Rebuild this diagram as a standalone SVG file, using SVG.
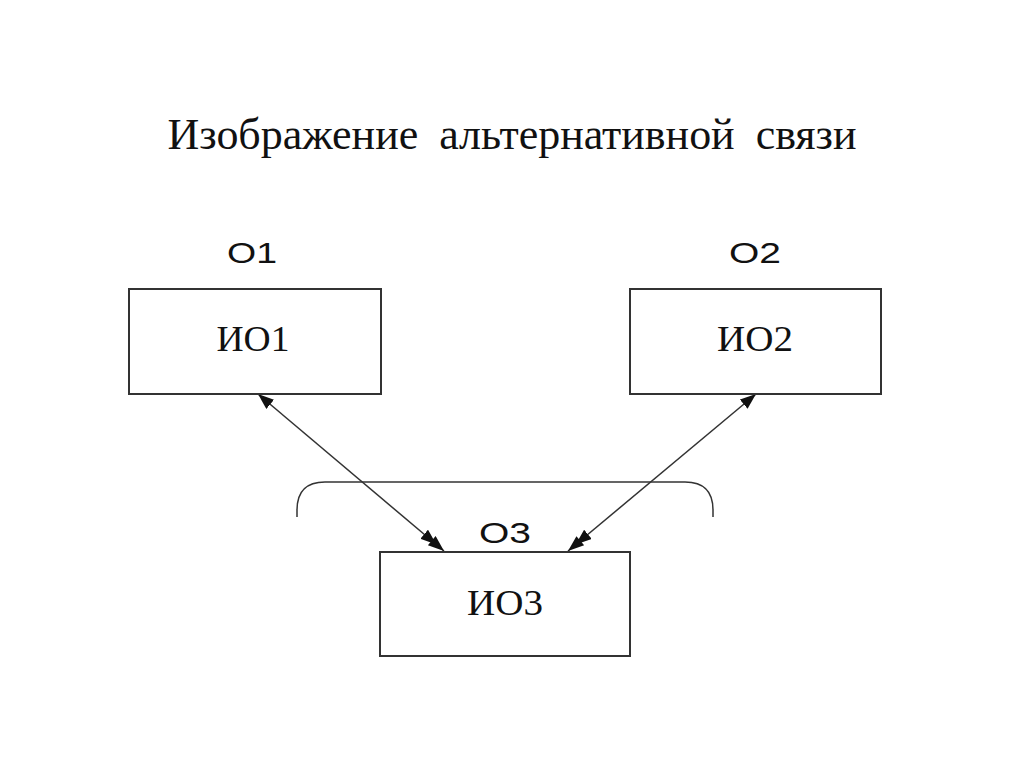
<svg xmlns="http://www.w3.org/2000/svg" width="1024" height="768" viewBox="0 0 1024 768">
<style>
.box{fill:#fff;stroke:#333;stroke-width:2}
.in{font-family:"Liberation Serif",serif;font-size:36px;fill:#111;text-anchor:middle}
.lbl{font-family:"Liberation Sans",sans-serif;font-size:29px;fill:#111;text-anchor:middle}
.ttl{font-family:"Liberation Serif",serif;font-size:44px;fill:#111;text-anchor:middle;word-spacing:10px}
.con{fill:none;stroke:#333;stroke-width:1.5}
</style>
<defs>
<marker id="one" viewBox="0 0 16 12" refX="16" refY="6" markerWidth="16" markerHeight="12" markerUnits="userSpaceOnUse" orient="auto-start-reverse">
<path d="M0,0 L16,6 L0,12 Z" fill="#111"/>
</marker>
<marker id="two" viewBox="0 0 26 12" refX="26" refY="6" markerWidth="26" markerHeight="12" markerUnits="userSpaceOnUse" orient="auto">
<path d="M0,0 L16,6 L0,12 Z M10,0 L26,6 L10,12 Z" fill="#111"/>
</marker>
</defs>
<rect width="1024" height="768" fill="#fff"/>
<text class="ttl" x="512" y="149" textLength="689" lengthAdjust="spacingAndGlyphs">Изображение альтернативной связи</text>
<g id="connectors">
<line class="con" x1="258" y1="394" x2="444" y2="551" marker-start="url(#one)" marker-end="url(#two)"/>
<line class="con" x1="756" y1="394" x2="568" y2="551" marker-start="url(#one)" marker-end="url(#two)"/>
<path class="con" d="M297,517 L297,510 Q297,482 325,482 L685,482 Q713,482 713,510 L713,517"/>
</g>
<g id="node-io1">
<text class="lbl" x="252" y="263" textLength="50" lengthAdjust="spacingAndGlyphs">O1</text>
<rect class="box" x="129" y="289" width="252" height="105"/>
<text class="in" x="253" y="351" textLength="73" lengthAdjust="spacingAndGlyphs">ИО1</text>
</g>
<g id="node-io2">
<text class="lbl" x="755" y="263" textLength="52" lengthAdjust="spacingAndGlyphs">O2</text>
<rect class="box" x="630" y="289" width="251" height="105"/>
<text class="in" x="755" y="351" textLength="76" lengthAdjust="spacingAndGlyphs">ИО2</text>
</g>
<g id="node-io3">
<text class="lbl" x="505" y="543" textLength="52" lengthAdjust="spacingAndGlyphs">O3</text>
<rect class="box" x="380" y="552" width="250" height="104"/>
<text class="in" x="505" y="615" textLength="76" lengthAdjust="spacingAndGlyphs">ИО3</text>
</g>
</svg>
